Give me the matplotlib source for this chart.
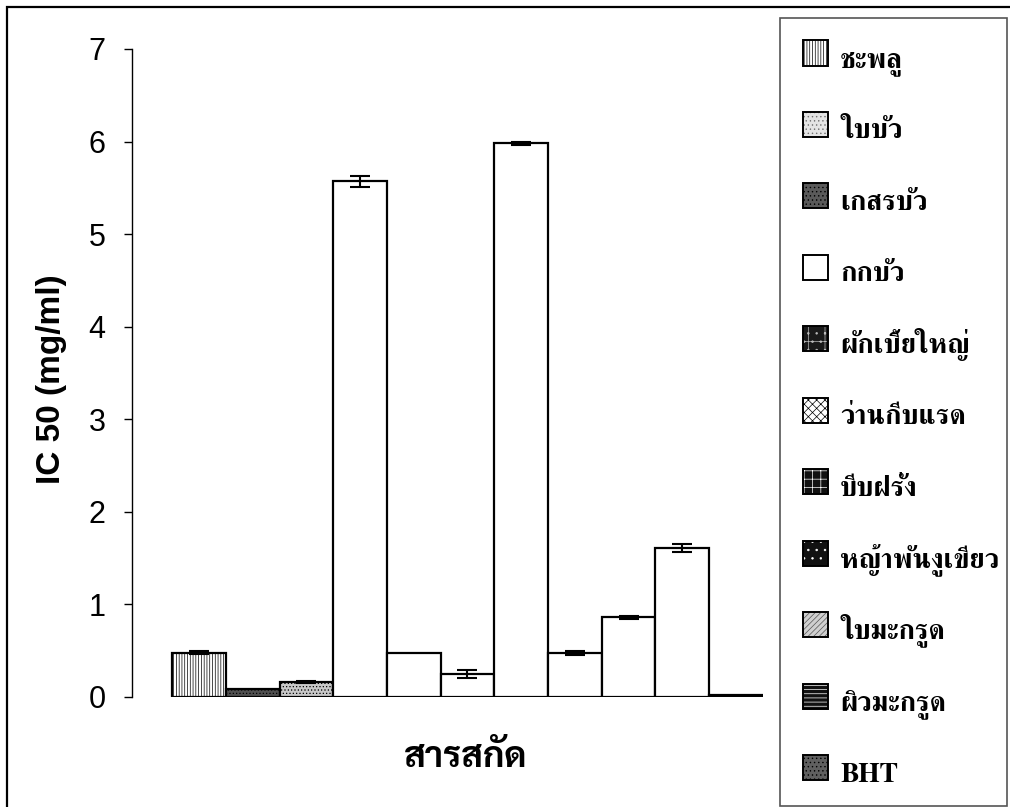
import numpy as np
import matplotlib
matplotlib.use("Agg")
import matplotlib.pyplot as plt
from matplotlib.patches import Rectangle

# สารสกัด และค่า IC50 (mg/ml)
extracts = ["ชะพลู", "ใบบัว", "เกสรบัว", "กกบัว", "ผักเบี้ยใหญ่", "ว่านกีบแรด",
            "บีบฝรั่ง", "หญ้าพันงูเขียว", "ใบมะกรูด", "ผิวมะกรูด", "BHT"]
ic50 = [0.48, 0.09, 0.16, 5.57, 0.475, 0.25, 5.98, 0.475, 0.86, 1.61, 0.02]
sd = [0.02, 0.0, 0.01, 0.06, 0.0, 0.04, 0.02, 0.02, 0.02, 0.04, 0.0]
yticks = [0, 1, 2, 3, 4, 5, 6, 7]

# ลายของแท่งตามที่เห็นในกราฟ
bar_face = ["white", "#505050", "#c8c8c8"] + ["white"] * 7 + ["black"]
bar_hatch = ["||||||", ".....", "....."] + [None] * 8

# ลายของสัญลักษณ์ใน legend (face, hatch, hatch colour)
leg_face = ["white", "#e4e4e4", "#5a5a5a", "white", "#1a1a1a", "white",
            "#111111", "#111111", "#cfcfcf", "#111111", "#606060"]
leg_hatch = ["||||||", "....", "....", None, "+..", "xxxx",
             "++", "..", "//////", "----", "...."]
leg_hcol = ["black", "#707070", "black", "black", "#bbbbbb", "black",
            "white", "white", "#555555", "white", "black"]

plt.rcParams["hatch.linewidth"] = 0.5
thai_serif = ["FreeSerif", "Taviraj", "DejaVu Serif"]
thai_sans = ["Sarabun", "IBM Plex Sans Thai", "DejaVu Sans"]
latin = ["Liberation Sans", "DejaVu Sans"]

W, H = 1010, 807
fig = plt.figure(figsize=(W / 100, H / 100), dpi=100)
ax = fig.add_axes([132 / W, 1 - 697 / H, 630.7 / W, 648 / H])

x = np.arange(len(extracts))
ax.bar(x, ic50, width=1.0, color=bar_face, edgecolor="black", linewidth=1.6,
       zorder=2)
for b, h in zip(ax.patches, bar_hatch):
    if h:
        b.set_hatch(h)

idx = [i for i in range(len(sd)) if sd[i] > 0]
ax.errorbar(x[idx], np.array(ic50)[idx], yerr=np.array(sd)[idx], fmt="none",
            ecolor="black", elinewidth=1.5, capsize=7, capthick=1.5, zorder=3)

ax.set_xlim(-1.25, 10.5)
ax.set_ylim(0, 7)
ax.set_yticks(yticks)
ax.set_xticks([])
for s in ["top", "right", "bottom"]:
    ax.spines[s].set_visible(False)
ax.spines["left"].set_linewidth(1.0)
ax.tick_params(axis="y", direction="out", length=6, width=1.0, pad=13,
               labelsize=22)
for t in ax.get_yticklabels():
    t.set_family(latin)

ax.set_ylabel("IC 50 (mg/ml)", fontsize=24, fontweight="bold", family=latin,
              va="center", ha="center")
ax.yaxis.set_label_coords(-0.128, 0.49)
ax.set_xlabel("สารสกัด", fontsize=26, fontweight="bold", family=thai_sans,
              va="center", ha="center")
ax.xaxis.set_label_coords(0.5296, -0.0926)

# กรอบรูปด้านนอก
fig.patches.append(Rectangle((7 / W, -0.05), 1.1, 1 - 7 / H + 0.05,
                             transform=fig.transFigure, fill=False,
                             edgecolor="black", linewidth=1.6))
# กรอบ legend
fig.patches.append(Rectangle((780 / W, 1 - 806 / H), (1007 - 780) / W,
                             (806 - 18) / H, transform=fig.transFigure,
                             fill=False, edgecolor="#555555", linewidth=1.2))

# legend
for i, name in enumerate(extracts):
    yc = 53 + i * 71.45
    sq = 25
    fig.patches.append(Rectangle((803 / W, 1 - (yc + sq / 2) / H), sq / W, sq / H,
                                 transform=fig.transFigure, facecolor=leg_face[i],
                                 edgecolor=leg_hcol[i], hatch=leg_hatch[i],
                                 linewidth=0))
    fig.patches.append(Rectangle((803 / W, 1 - (yc + sq / 2) / H), sq / W, sq / H,
                                 transform=fig.transFigure, fill=False,
                                 edgecolor="black", linewidth=1.4))
    fig.text(840 / W, 1 - (yc + 14) / H, name, fontsize=20, fontweight="bold",
             family=thai_serif, va="baseline", ha="left")

fig.savefig("out.png", dpi=100)
